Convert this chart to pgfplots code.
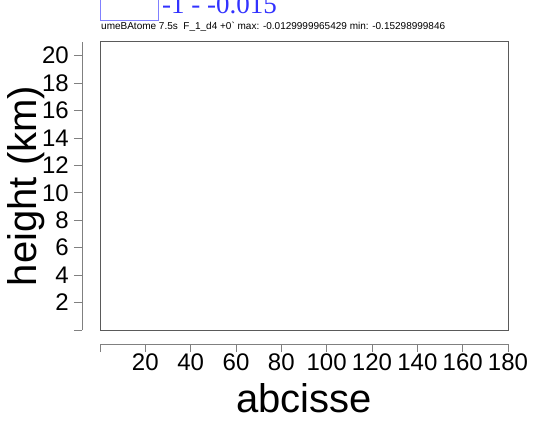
\documentclass[border=0pt]{standalone}
\usepackage{fontspec}
\setmainfont{Liberation Sans}
\newfontfamily\serifblue{Liberation Serif}
\usepackage{pgfplots}
\pgfplotsset{compat=1.18}
\definecolor{axisgrey}{RGB}{128,128,128}
\definecolor{boxgrey}{RGB}{90,90,90}
\definecolor{keyblue}{RGB}{128,128,255}
\definecolor{txtblue}{RGB}{50,50,255}

\begin{document}
\begin{tikzpicture}[x=1bp,y=1bp]
    \useasboundingbox (0,0) rectangle (534,421);
    % empty field plot: box plus detached axes
    \begin{axis}[
        at={(100bp,91bp)}, anchor=south west,
        scale only axis,
        width=408bp, height=288bp,
        xmin=0, xmax=180,
        ymin=0, ymax=21,
        axis lines=left,
        axis line style={-, axisgrey, line width=1bp},
        axis x line shift=14bp,
        axis y line shift=18bp,
        tick align=outside,
        major tick length=8bp,
        tick style={axisgrey, line width=1bp},
        xtick={0,20,...,180},
        xticklabels={,20,40,60,80,100,120,140,160,180},
        ytick={0,2,...,20},
        yticklabels={,2,4,6,8,10,12,14,16,18,20},
        /pgf/number format/assume math mode=true,
        ticklabel style={font=\fontsize{24bp}{24bp}\selectfont},
        xticklabel style={inner sep=2bp},
        yticklabel style={inner sep=5bp},
        xlabel={abcisse},
        ylabel={height (km)},
        label style={font=\fontsize{40bp}{40bp}\selectfont},
        xlabel style={at={(axis description cs:0.5,-0.285)}, anchor=base},
        ylabel style={at={(axis description cs:-0.155,0.5)}, anchor=base},
        clip=false,
    ]
    \draw[boxgrey, line width=1bp] (rel axis cs:0,0) rectangle (rel axis cs:1,1);
    \end{axis}
    % header text
    \node[anchor=base west, inner sep=0pt, font=\fontsize{10bp}{10bp}\selectfont]
        at (101,391) {umeBAtome 7.5s\ \ F\_1\_d4 +0\textasciigrave\ max: -0.0129999965429 min: -0.15298999846};
    \draw[keyblue, line width=1bp] (100.5,430) -- (100.5,400.5) -- (158,400.5) -- (158,430);
    \node[anchor=base west, inner sep=0pt, text=txtblue, font=\serifblue\fontsize{27bp}{27bp}\selectfont]
        at (162,407) {-1 - -0.015};
\end{tikzpicture}
\end{document}
